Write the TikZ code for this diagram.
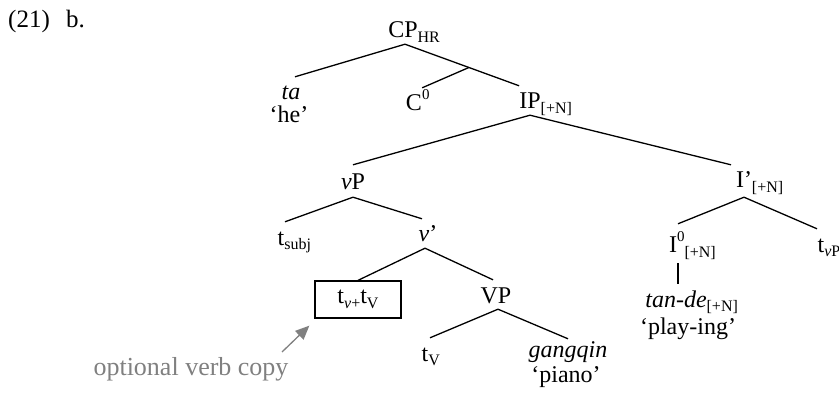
\documentclass[tikz,border=0pt]{standalone}
\usepackage{fontspec}
\setmainfont{Liberation Serif}
\usetikzlibrary{arrows.meta,calc}
\newcommand{\mysub}[1]{\raisebox{-4.5pt}{\fontsize{16}{16}\selectfont #1}}
\newcommand{\mysup}[1]{\raisebox{11pt}{\fontsize{15}{15}\selectfont #1}}
\definecolor{optgray}{RGB}{128,128,128}
\begin{document}
\begin{tikzpicture}[x=1pt,y=-1pt,font=\fontsize{24}{28}\selectfont,
  tn/.style={anchor=base, inner xsep=0pt, inner ysep=6pt, text height=17pt, text depth=0pt},
  br/.style={line width=1.3pt},
  lab/.style={anchor=base west, inner sep=0pt, font=\fontsize{25}{30}\selectfont}]
\useasboundingbox (0,0) rectangle (839,393);
% labels
\node[lab] (ex) at (8,28) {(21)};
\node[lab] (exb) at (66,28) {b.};
% nodes
\node[tn] (cp) at (403,38) {CP\rlap{\mysub{HR}}};
\node[tn] (ta) at (291,100) {\textit{ta}};
\node[tn] (he) at (289,123) {‘he’};
\node[tn] (c0) at (414,111) {C\rlap{\mysup{0}}};
\node[tn] (ip) at (530,109) {IP\rlap{\mysub{[+N]}}};
\node[tn] (vp) at (353,190) {\textit{v}P};
\node[tn] (ib) at (744,188) {I’\rlap{\mysub{[+N]}}};
\node[tn] (tsubj) at (281,245) {t\rlap{\mysub{subj}}};
\node[tn] (vb) at (428,242) {\textit{v}’};
\node[draw, line width=1.3pt, minimum width=86pt, minimum height=37pt, inner sep=0pt] (box) at (358,299.5) {t\mysub{\textit{v}+}t\mysub{V}};
\node[tn] (VP) at (496,303) {VP};
\node[tn] (tV) at (425,361) {t\rlap{\mysub{V}}};
\node[tn] (gq) at (568,357) {\textit{gangqin}};
\node[tn] (pi) at (566,382) {‘piano’};
\node[tn] (i0) at (673,253) {I\rlap{\mysup{0}\mysub{[+N]}}};
\node[tn] (tvp) at (821,252) {t\rlap{\mysub{\textit{v}P}}};
\node[tn] (td) at (676,307) {\textit{tan-de}\rlap{\mysub{[+N]}}};
\node[tn] (pl) at (688,334) {‘play-ing’};
\node[anchor=base, inner sep=0pt, font=\fontsize{26}{30}\selectfont, text=optgray] (opt) at (191,375) {optional verb copy};
% branches
\draw[br] ([xshift=2pt]cp.south) -- ([xshift=4pt]ta.north);
\draw[br] ([xshift=2pt]cp.south) -- (ip.north west);
\coordinate (m) at ($([xshift=2pt]cp.south)!0.56!(ip.north west)$);
\draw[br] (m) -- (c0.north east);
\draw[br] (ip.south) -- ([yshift=2pt]vp.north);
\draw[br] (ip.south) -- ([xshift=-13pt]ib.north);
\draw[br] ([yshift=-1pt]vp.south) -- ([xshift=4pt]tsubj.north);
\draw[br] ([yshift=-1pt]vp.south) -- ([xshift=-6pt]vb.north);
\draw[br] ([xshift=-3pt]vb.south) -- (box.north);
\draw[br] ([xshift=-3pt]vb.south) -- ([xshift=-3pt]VP.north);
\draw[br] ([xshift=2pt]VP.south) -- ([xshift=5pt]tV.north);
\draw[br] ([xshift=2pt]VP.south) -- ([yshift=-5pt]gq.north);
\draw[br] ([yshift=-3pt]ib.south) -- ([shift={(5pt,6pt)}]i0.north);
\draw[br] ([yshift=-3pt]ib.south) -- ([xshift=-4pt]tvp.north);
\draw[br] ([shift={(5pt,-4pt)}]i0.south) -- ([xshift=5pt]i0.south |- td.north);
% arrow
\coordinate (tail) at (282,352);
\draw[optgray, line width=1.3pt, -{Triangle[length=14pt,width=12pt]}] (tail) -- ([shift={(-5pt,-7pt)}]box.south west);
\end{tikzpicture}
\end{document}
